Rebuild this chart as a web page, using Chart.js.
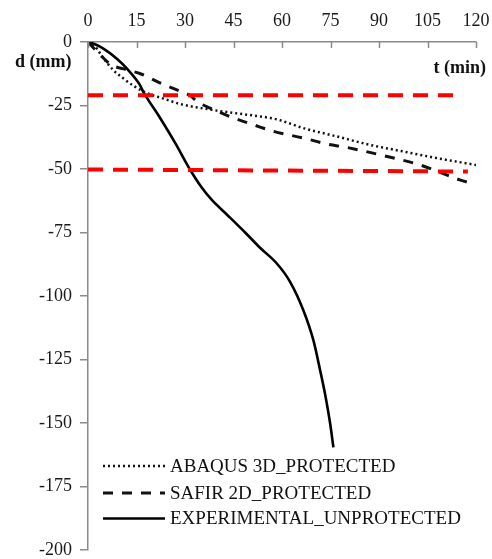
<!DOCTYPE html>
<html>
<head>
<meta charset="utf-8">
<script src="https://cdn.jsdelivr.net/npm/chart.js@4/dist/chart.umd.min.js"></script>
<style>
  html, body { margin: 0; padding: 0; background: #fff; }
  canvas { display: block; }
</style>
</head>
<body>
<canvas id="c" width="492" height="559"></canvas>
<script>
// ---- data ----
const seriesLabels = ["ABAQUS 3D_PROTECTED", "SAFIR 2D_PROTECTED", "EXPERIMENTAL_UNPROTECTED"];

const abaqusT = [0, 2, 5, 8.1, 11.2, 14, 18.2, 23.4, 28.5, 38.8, 49.1, 56.3, 59.4, 66.6, 77, 87.2, 97.5, 107.8, 120];
const abaqusD = [0, -1.5, -6.8, -11.4, -14.6, -17.2, -20.1, -22.3, -24.4, -26.8, -28.6, -29.9, -30.8, -33.9, -37.2, -40.5, -43.1, -45.7, -48.4];

const safirT = [0, 4.5, 7.2, 11, 16.4, 22.9, 28.5, 31.5, 33.7, 38.8, 45, 51.2, 57.4, 66.6, 73.9, 80, 91.3, 102.7, 108.9, 115, 119.7];
const safirD = [0, -6, -9, -10.6, -12.6, -16.5, -19.4, -21.0, -23.4, -26.6, -29.9, -32.6, -35.2, -37.8, -40.2, -41.5, -44.7, -48.4, -51.3, -54.3, -56];

const expT = [0, 2, 5, 9.1, 12.2, 15.9, 17.2, 22.3, 27, 31.6, 35, 38.3, 43, 48.6, 53.2, 58.4, 62.5, 66.6, 69.7, 71.8, 73.3, 74.9, 75.9];
const expD = [0, -0.8, -2.8, -6.8, -10.7, -16.6, -19.8, -29.9, -39.8, -50.3, -57, -62.2, -68, -75, -81, -87.2, -94.4, -105.6, -117.4, -129.3, -138.5, -150.3, -159.6];

const limit1T = [0, 116];
const limit1D = [-21, -21];
const limit2T = [0, 117.5];
const limit2D = [-50.2, -51];

const xTicks = [0, 15, 30, 45, 60, 75, 90, 105, 120];
const yTicks = [0, -25, -50, -75, -100, -125, -150, -175, -200];

const xTitle = "t (min)";
const yTitle = "d (mm)";

// ---- build ----
const pts = (ts, ds) => ts.map((t, i) => ({ x: t, y: ds[i] }));
const FONT = "'Liberation Serif', 'Times New Roman', serif";
const AXIS = "#8a8a8a";

const datasets = [
  { label: "limit1", data: pts(limit1T, limit1D), borderColor: "#ff0000", borderWidth: 4, borderDash: [15, 10], order: 0 },
  { label: "limit2", data: pts(limit2T, limit2D), borderColor: "#ff0000", borderWidth: 4, borderDash: [15, 10], order: 0 },
  { label: seriesLabels[0], data: pts(abaqusT, abaqusD), borderColor: "#111", borderWidth: 2.5, borderDash: [2, 3], order: 1, cubicInterpolationMode: 'monotone' },
  { label: seriesLabels[1], data: pts(safirT, safirD), borderColor: "#111", borderWidth: 3, borderDash: [10, 9], order: 1, cubicInterpolationMode: 'monotone' },
  { label: seriesLabels[2], data: pts(expT, expD), borderColor: "#000", borderWidth: 2.6, borderDash: [], order: 1, cubicInterpolationMode: 'monotone' }
];
datasets.forEach(d => { d.pointRadius = 0; d.fill = false; d.borderCapStyle = 'butt'; });

const noPad = s => { s.paddingTop = 0; s.paddingBottom = 0; s.paddingLeft = 0; s.paddingRight = 0; };

const extras = {
  id: 'extras',
  afterDraw(chart) {
    const ctx = chart.ctx;
    const xs = chart.scales.x, ys = chart.scales.y;
    const ca = chart.chartArea;
    ctx.save();
    // inside tick marks on top x axis
    ctx.strokeStyle = AXIS;
    ctx.lineWidth = 1.5;
    xTicks.forEach(v => {
      const px = Math.round(xs.getPixelForValue(v)) + 0.5;
      ctx.beginPath();
      ctx.moveTo(px, ca.top);
      ctx.lineTo(px, ca.top + 6);
      ctx.stroke();
    });
    // axis titles
    ctx.fillStyle = "#111";
    ctx.font = "bold 18px " + FONT;
    ctx.textBaseline = "middle";
    ctx.textAlign = "left";
    ctx.fillText(yTitle, 15, ys.getPixelForValue(0) + 20);
    ctx.textAlign = "right";
    ctx.fillText(xTitle, ca.right + 10, ys.getPixelForValue(0) + 26);
    // legend
    const rows = [ca.bottom - 84, ca.bottom - 57, ca.bottom - 31.5];
    const legendSets = datasets.slice(2);
    ctx.font = "19px " + FONT;
    ctx.textAlign = "left";
    legendSets.forEach((ds, i) => {
      const y = rows[i];
      ctx.beginPath();
      ctx.strokeStyle = ds.borderColor;
      ctx.lineWidth = ds.borderWidth;
      ctx.setLineDash(ds.borderDash);
      ctx.moveTo(ca.left + 15, y);
      ctx.lineTo(ca.left + 77, y);
      ctx.stroke();
      ctx.setLineDash([]);
      ctx.fillStyle = "#111";
      ctx.fillText(ds.label, ca.left + 82, y + 1);
    });
    ctx.restore();
  }
};

new Chart(document.getElementById('c'), {
  type: 'line',
  data: { datasets },
  options: {
    responsive: false,
    animation: false,
    layout: { padding: { left: 0, right: 16, top: 0, bottom: 9 } },
    plugins: { legend: { display: false }, tooltip: { enabled: false } },
    scales: {
      x: {
        type: 'linear',
        position: 'top',
        min: 0, max: 120,
        afterBuildTicks: s => { s.ticks = xTicks.map(v => ({ value: v })); },
        afterFit: s => { s.height = 42; noPad(s); },
        ticks: { font: { family: FONT, size: 18 }, color: "#1a1a1a", padding: 10, maxRotation: 0, autoSkip: false },
        grid: { display: true, drawOnChartArea: false, drawTicks: false, color: AXIS, lineWidth: 1.5 },
        border: { display: true, color: AXIS, width: 1.5 }
      },
      y: {
        type: 'linear',
        min: -200, max: 0,
        afterBuildTicks: s => { s.ticks = yTicks.map(v => ({ value: v })); },
        afterFit: s => { s.width = 88; noPad(s); },
        ticks: { font: { family: FONT, size: 18 }, color: "#1a1a1a", padding: 8, autoSkip: false, callback: v => String(v) },
        grid: { display: true, drawOnChartArea: false, drawTicks: true, tickLength: 8, color: AXIS, lineWidth: 1.5 },
        border: { display: true, color: AXIS, width: 1.5 }
      }
    }
  },
  plugins: [extras]
});
</script>
</body>
</html>
